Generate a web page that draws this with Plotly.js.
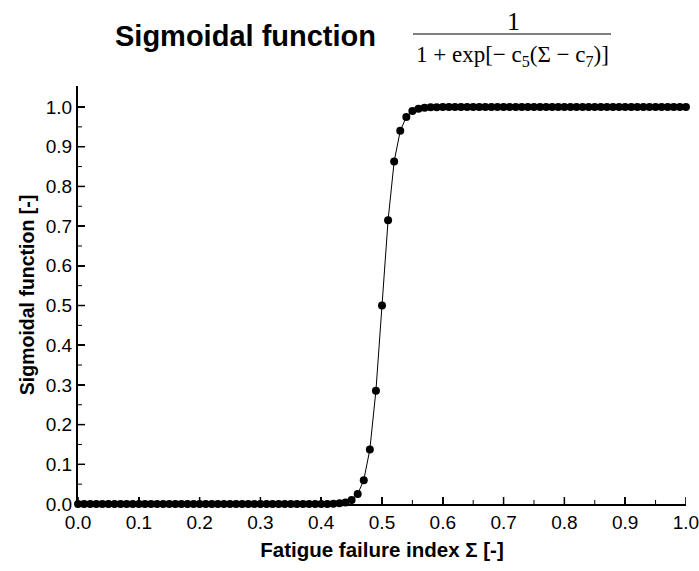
<!DOCTYPE html>
<html><head><meta charset="utf-8">
<script src="https://cdn.plot.ly/plotly-3.0.1.min.js"></script>
<style>html,body{margin:0;padding:0;background:#fff}#chart{width:699px;height:571px}</style>
</head><body><div id="chart"></div>
<script>
const sigmaValues = [0.00,0.01,0.02,0.03,0.04,0.05,0.06,0.07,0.08,0.09,
0.10,0.11,0.12,0.13,0.14,0.15,0.16,0.17,0.18,0.19,
0.20,0.21,0.22,0.23,0.24,0.25,0.26,0.27,0.28,0.29,
0.30,0.31,0.32,0.33,0.34,0.35,0.36,0.37,0.38,0.39,
0.40,0.41,0.42,0.43,0.44,0.45,0.46,0.47,0.48,0.49,
0.50,0.51,0.52,0.53,0.54,0.55,0.56,0.57,0.58,0.59,
0.60,0.61,0.62,0.63,0.64,0.65,0.66,0.67,0.68,0.69,
0.70,0.71,0.72,0.73,0.74,0.75,0.76,0.77,0.78,0.79,
0.80,0.81,0.82,0.83,0.84,0.85,0.86,0.87,0.88,0.89,
0.90,0.91,0.92,0.93,0.94,0.95,0.96,0.97,0.98,0.99,1.00];
const sigmoidValues = [0,0,0,0,0,0,0,0,0,0,
0,0,0,0,0,0,0,0,0,0,
0,0,0,0,0,0,0,0,0,0,
0,0,0,0,0,0,0,0,0,0.0001,
0.0001,0.0003,0.0006,0.0016,0.004,0.010,0.025,0.060,0.137,0.285,
0.500,0.715,0.863,0.940,0.975,0.990,0.996,0.9984,0.9994,0.9997,
0.9999,1,1,1,1,1,1,1,1,1,
1,1,1,1,1,1,1,1,1,1,
1,1,1,1,1,1,1,1,1,1,
1,1,1,1,1,1,1,1,1,1,1];
const xTicks = [0,0.1,0.2,0.3,0.4,0.5,0.6,0.7,0.8,0.9,1.0];
const xTickText = ['0.0','0.1','0.2','0.3','0.4','0.5','0.6','0.7','0.8','0.9','1.0'];
const yTicks = [0,0.1,0.2,0.3,0.4,0.5,0.6,0.7,0.8,0.9,1.0];
const yTickText = ['0.0','0.1','0.2','0.3','0.4','0.5','0.6','0.7','0.8','0.9','1.0'];
const minorTicks = [0.05,0.15,0.25,0.35,0.45,0.55,0.65,0.75,0.85,0.95];

const sans = 'Arial, "Liberation Sans", sans-serif';
const serif = '"Times New Roman", "Liberation Serif", serif';
const W = 699, H = 571, L = 78, R = 13, T = 86, B = 67;
const pw = W - L - R, ph = H - T - B;
const px = x => (x - L) / pw;
const py = y => (H - B - y) / ph;

const trace = {
  x: sigmaValues, y: sigmoidValues, type: 'scatter', mode: 'lines+markers',
  line: {color: '#000', width: 1},
  marker: {color: '#000', size: 8},
  cliponaxis: false, hoverinfo: 'none'
};
const axisCommon = {
  showline: true, linecolor: '#000', linewidth: 2, mirror: false,
  ticks: 'inside', ticklen: 7, tickwidth: 1.5, tickcolor: '#000000',
  showgrid: false, zeroline: false,
  tickfont: {family: sans, size: 19, color: '#000'},
  tickmode: 'array', ticklabeloverflow: 'allow'
};

// tick marks placed through the axes' own scales (x/y refs) with pixel lengths
const tickShapes = [];
function addXTick(v, len, w) {
  tickShapes.push({type: 'line', xref: 'x', yref: 'paper', ysizemode: 'pixel', yanchor: 0,
    x0: v, x1: v, y0: 0, y1: len, line: {color: '#000', width: w}, layer: 'above'});
}
function addYTick(v, len, w) {
  tickShapes.push({type: 'line', xref: 'paper', yref: 'y', xsizemode: 'pixel', xanchor: 0,
    x0: 0, x1: len, y0: v, y1: v, line: {color: '#000', width: w}, layer: 'above'});
}
xTicks.forEach(v => addXTick(v, 7, 1.5));
minorTicks.forEach(v => addXTick(v, 4, 1));
yTicks.forEach(v => addYTick(v, 7, 1.5));
minorTicks.forEach(v => addYTick(v, 4, 1));

const layout = {
  width: W, height: H,
  margin: {l: L, r: R, t: T, b: B},
  paper_bgcolor: '#fff', plot_bgcolor: '#fff',
  showlegend: false,
  xaxis: Object.assign({}, axisCommon, {
    range: [-0.0001, 1.0001], tickvals: xTicks, ticktext: xTickText,
    title: {text: '<b>Fatigue failure index Σ [-]</b>', font: {family: sans, size: 20.5, color: '#000'}, standoff: 11}
  }),
  yaxis: Object.assign({}, axisCommon, {
    range: [0, 1.053], tickvals: yTicks, ticktext: yTickText,
    title: {text: '<b>Sigmoidal function [-]</b>', font: {family: sans, size: 19.5, color: '#000'}, standoff: 6}
  }),
  annotations: [
    {text: '<b>Sigmoidal function</b>', xref: 'paper', yref: 'paper', x: px(245), y: py(36),
     xanchor: 'center', yanchor: 'middle', showarrow: false, font: {family: sans, size: 29, color: '#000'}},
    {text: '1', xref: 'paper', yref: 'paper', x: px(513), y: py(21),
     xanchor: 'center', yanchor: 'middle', showarrow: false, font: {family: serif, size: 26, color: '#000'}},
    {text: '1 + exp[− c<sub>5</sub>(Σ − c<sub>7</sub>)]', xref: 'paper', yref: 'paper', x: px(512), y: py(56),
     xanchor: 'center', yanchor: 'middle', showarrow: false, font: {family: serif, size: 23, color: '#000'}}
  ],
  shapes: [
    {type: 'line', xref: 'paper', yref: 'paper', x0: px(413), x1: px(611), y0: py(34), y1: py(34),
     line: {color: '#000', width: 1.2}}
  ].concat(tickShapes)
};
Plotly.newPlot('chart', [trace], layout, {staticPlot: true, displayModeBar: false});
</script></body></html>
